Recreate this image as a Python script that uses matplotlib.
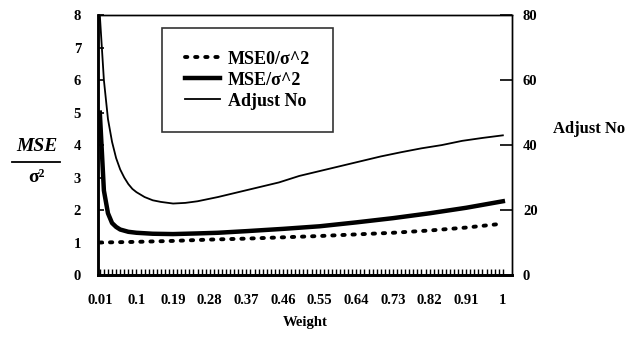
import numpy as np
import matplotlib
matplotlib.use('Agg')
import matplotlib.pyplot as plt
from matplotlib.lines import Line2D

# valores
w_thin = [0.01, 0.02, 0.03, 0.04, 0.05, 0.06, 0.07, 0.08, 0.09, 0.10, 0.12, 0.14,
          0.16, 0.19, 0.22, 0.25, 0.30, 0.35, 0.40, 0.45, 0.50, 0.55, 0.60, 0.65,
          0.70, 0.75, 0.80, 0.85, 0.90, 0.95, 1.00]
adjust_no = [80, 60, 48, 41, 36, 32.5, 30, 28, 26.5, 25.5, 24, 23,
             22.5, 22, 22.2, 22.7, 24, 25.5, 27, 28.5, 30.5, 32, 33.5, 35,
             36.5, 37.8, 39, 40, 41.3, 42.2, 43]

w_mse = [0.01, 0.02, 0.03, 0.04, 0.05, 0.06, 0.08, 0.10, 0.14, 0.19, 0.25, 0.30,
         0.37, 0.46, 0.55, 0.64, 0.73, 0.82, 0.91, 1.00]
mse = [5.0, 2.6, 1.9, 1.6, 1.48, 1.4, 1.33, 1.3, 1.27, 1.26, 1.28, 1.3,
       1.35, 1.42, 1.5, 1.62, 1.75, 1.9, 2.07, 2.27]

w_mse0 = [0.01, 0.10, 0.19, 0.28, 0.37, 0.46, 0.55, 0.64, 0.73, 0.82, 0.91, 1.00]
mse0 = [1.0, 1.02, 1.05, 1.09, 1.12, 1.16, 1.2, 1.25, 1.3, 1.37, 1.46, 1.58]

tick_labels = ['0.01', '0.1', '0.19', '0.28', '0.37', '0.46', '0.55', '0.64',
               '0.73', '0.82', '0.91', '1']

plt.rcParams['font.family'] = 'Liberation Serif'
plt.rcParams['font.weight'] = 'bold'

fig = plt.figure(figsize=(6.35, 3.37), dpi=100)
ax = fig.add_axes([0.154, 0.184, 0.652, 0.771])
ax2 = ax.twinx()

l1, = ax.plot(w_mse0, mse0, color='black', linestyle=(0, (0.6, 2.0)),
              linewidth=2.8, dash_capstyle='round', label='MSE0/σ^2')
l2, = ax.plot(w_mse, mse, color='black', linewidth=3.2, label='MSE/σ^2')
l3, = ax2.plot(w_thin, adjust_no, color='black', linewidth=1.3, label='Adjust No')

ax.set_xlim(0.005, 1.022)
ax.set_ylim(0, 8)
ax2.set_ylim(0, 80)

ticks = [float(t) for t in tick_labels]
ax.set_xticks(ticks)
ax.set_xticklabels(tick_labels, fontsize=10.5, fontweight='bold')
ax.set_xticks(np.arange(0.01, 1.005, 0.01), minor=True)
ax.tick_params(axis='x', which='both', direction='in', length=4, width=1, pad=14)
ax.tick_params(axis='y', direction='in', length=4, width=1.2, labelsize=10.5, pad=12)
ax2.set_yticks([0, 20, 40, 60, 80])
ax2.tick_params(axis='y', direction='in', length=9, width=1.2, labelsize=10.5, pad=8)
ax.set_yticks(range(0, 9))

for a in (ax, ax2):
    for s in a.spines.values():
        s.set_linewidth(1.0)
    a.spines['left'].set_linewidth(1.8)
    a.spines['bottom'].set_linewidth(2.0)

ax.set_xlabel('Weight', fontsize=10.5, fontweight='bold', labelpad=6)

# etiqueta izquierda en forma de fracción
fig.text(0.058, 0.564, 'MSE', fontsize=14, style='italic', fontweight='bold',
         ha='center', va='center')
fig.add_artist(Line2D([0.019, 0.095], [0.519, 0.519], color='black', linewidth=1.3))
fig.text(0.058, 0.472, 'σ²', fontsize=14, fontweight='bold', ha='center', va='center')

fig.text(0.928, 0.618, 'Adjust No', fontsize=12, fontweight='bold', ha='center', va='center')

leg = ax.legend(handles=[l1, l2, l3], loc='upper left', bbox_to_anchor=(0.155, 0.95),
                frameon=True, fancybox=False, edgecolor='black', fontsize=13,
                handlelength=1.95, borderpad=1.25, labelspacing=0.22, handletextpad=0.45,
                borderaxespad=0)
leg.get_frame().set_linewidth(1.2)

fig.savefig('out.png', dpi=100)
